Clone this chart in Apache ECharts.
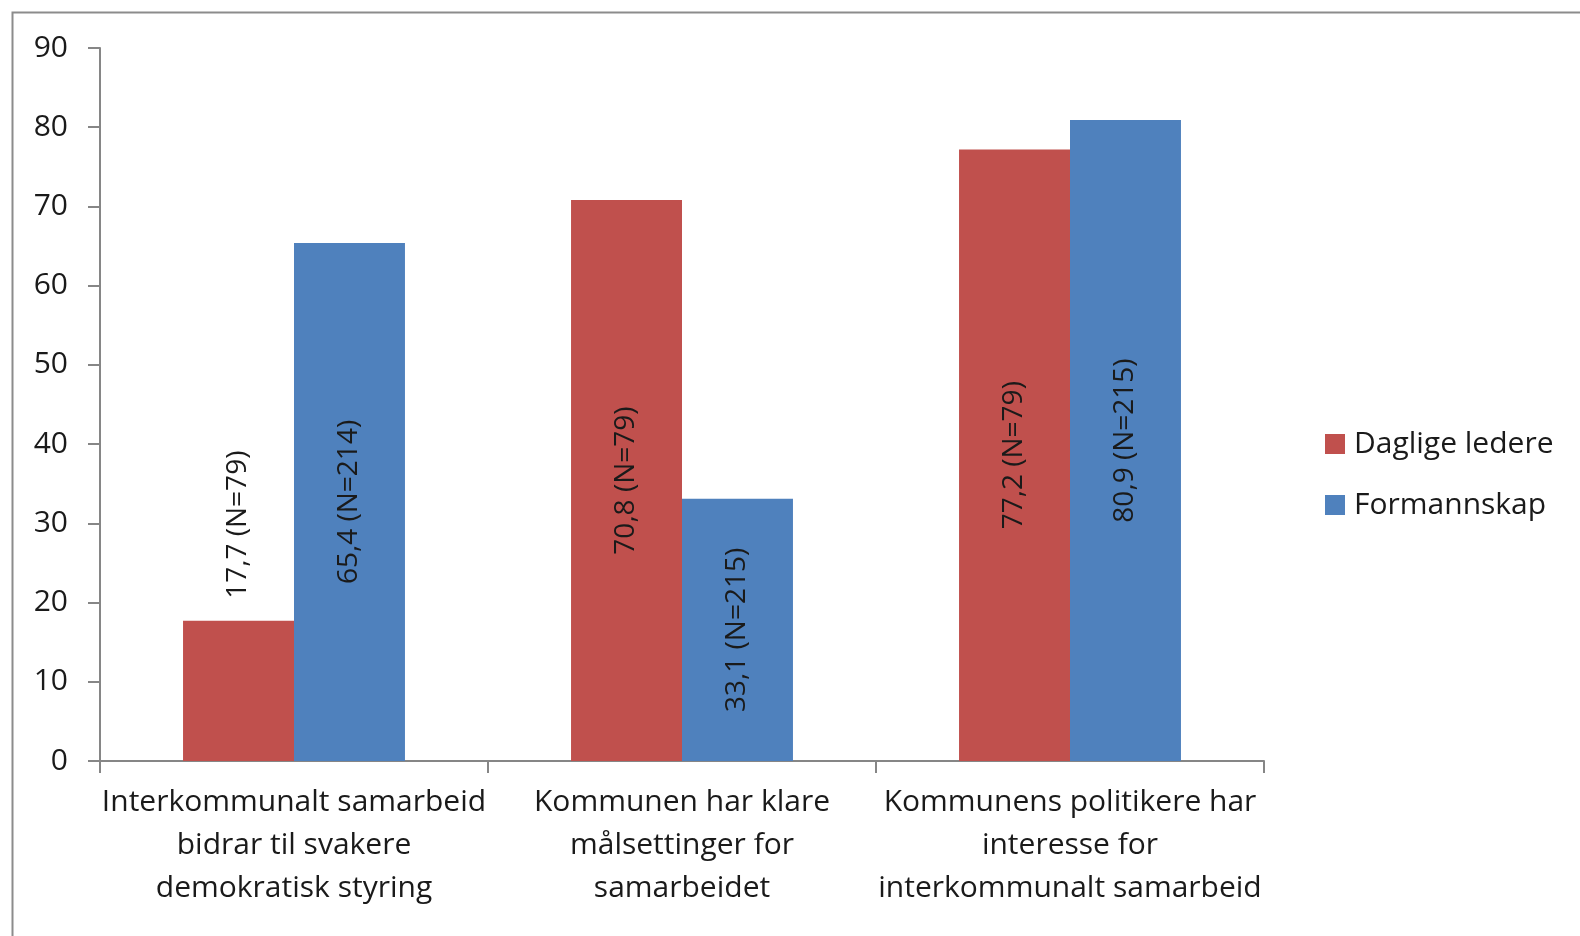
<!DOCTYPE html>
<html><head><meta charset="utf-8">
<script src="https://cdn.jsdelivr.net/npm/echarts@6/dist/echarts.min.js"></script>
<style>html,body{margin:0;padding:0;background:#fff}#c{width:1580px;height:936px}</style>
</head><body><div id="c"></div>
<script>
const categories = [
  "Interkommunalt samarbeid\nbidrar til svakere\ndemokratisk styring",
  "Kommunen har klare\nmålsettinger for\nsamarbeidet",
  "Kommunens politikere har\ninteresse for\ninterkommunalt samarbeid"
];
const seriesNames = ["Daglige ledere", "Formannskap"];
const dagligeLedere = [17.7, 70.8, 77.2];
const dagligeN = [79, 79, 79];
const formannskap = [65.4, 33.1, 80.9];
const formannskapN = [214, 215, 215];
const yTicks = [0, 10, 20, 30, 40, 50, 60, 70, 80, 90];

const FONT = "Open Sans";
const TXT = '#1a1a1a';
const fmt = (v, n) => v.toFixed(1).replace('.', ',') + ' (N=' + n + ')';

function buildData(vals) {
  return vals.map(v => {
    const small = v < 25;
    return {
      value: v,
      label: small
        ? { position: 'top', align: 'left', verticalAlign: 'middle', distance: 22 }
        : { position: 'inside', align: 'center', verticalAlign: 'middle' }
    };
  });
}

const chart = echarts.init(document.getElementById('c'), null, { renderer: 'canvas' });
const labelBase = { show: true, rotate: 90, color: TXT, fontFamily: FONT, fontSize: 28 };
chart.setOption({
  animation: false,
  backgroundColor: '#fff',
  textStyle: { fontFamily: FONT },
  graphic: [{
    type: 'rect', left: 10, top: 10, shape: { width: 1600, height: 1000 },
    style: { fill: 'none', stroke: '#8c8c8c', lineWidth: 2 }, silent: true, z: -1
  }],
  grid: { left: 100, right: 316, top: 48, bottom: 175, containLabel: false },
  legend: {
    orient: 'vertical', left: 1320, top: 424, itemWidth: 20, itemHeight: 20, itemGap: 31,
    icon: 'rect',
    textStyle: { fontFamily: FONT, fontSize: 30, color: TXT, padding: [0, 0, 0, 4] },
    data: seriesNames
  },
  xAxis: {
    type: 'category', data: categories,
    axisLine: { lineStyle: { color: '#868686', width: 2 } },
    axisTick: { show: true, length: 12, lineStyle: { color: '#868686', width: 2 } },
    axisLabel: { color: TXT, fontFamily: FONT, fontSize: 30, lineHeight: 43, margin: 20, interval: 0 }
  },
  yAxis: {
    type: 'value', min: 0, max: 90, interval: 10,
    axisLine: { show: true, lineStyle: { color: '#868686', width: 2 } },
    axisTick: { show: true, length: 12, lineStyle: { color: '#868686', width: 2 } },
    splitLine: { show: false },
    axisLabel: { color: TXT, fontFamily: FONT, fontSize: 30, margin: 32,
      formatter: v => yTicks.includes(v) ? String(v) : '' }
  },
  series: [
    {
      name: seriesNames[0], type: 'bar', barWidth: '28.6%', barGap: '0%',
      itemStyle: { color: '#C0504D' },
      label: Object.assign({}, labelBase, { formatter: p => fmt(p.value, dagligeN[p.dataIndex]) }),
      data: buildData(dagligeLedere)
    },
    {
      name: seriesNames[1], type: 'bar', barWidth: '28.6%', barGap: '0%',
      itemStyle: { color: '#4F81BD' },
      label: Object.assign({}, labelBase, { formatter: p => fmt(p.value, formannskapN[p.dataIndex]) }),
      data: buildData(formannskap)
    }
  ]
});
</script></body></html>
